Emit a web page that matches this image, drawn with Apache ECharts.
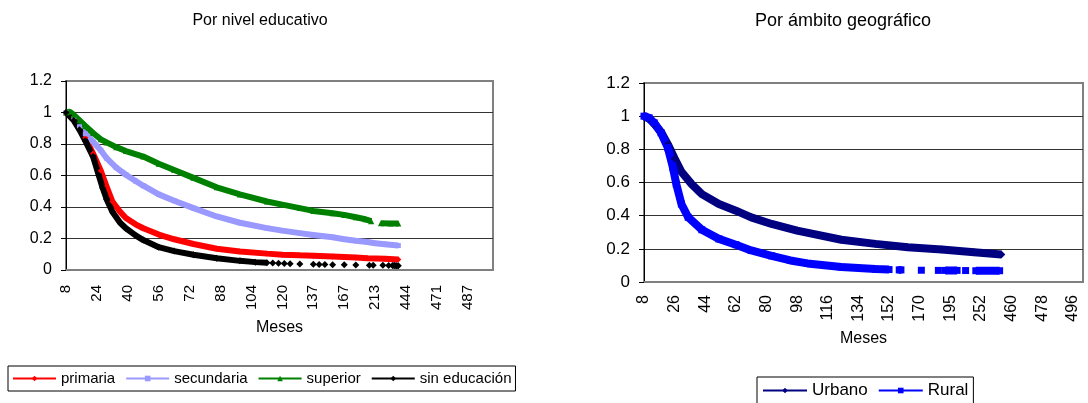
<!DOCTYPE html>
<html>
<head>
<meta charset="utf-8">
<script src="https://cdn.jsdelivr.net/npm/echarts@6/dist/echarts.min.js"></script>
<style>
  html, body { margin: 0; padding: 0; background: #fff; }
  #chart { width: 1088px; height: 403px; }
</style>
</head>
<body>
<div id="chart"></div>
<script>
// categorías del eje X (meses) - gráfico izquierdo
const mesesEdu = [
  8,9,10,11,12,13,14,15,16,17,18,19,20,21,22,23,
  24,25,26,27,28,29,30,31,32,33,34,35,36,37,38,39,
  40,41,42,43,44,45,46,47,48,49,50,51,52,53,54,55,
  56,57,58,59,60,61,62,63,64,65,66,67,68,69,70,71,
  72,73,74,75,76,77,78,79,80,81,82,83,84,85,86,87,
  88,89,90,91,92,93,94,95,96,97,98,99,100,101,102,103,
  104,105,106,107,108,109,110,111,112,113,114,115,116,117,118,119,
  120,121,122,123,124,125,126,127,128,129,130,131,132,134,135,136,
  137,139,141,143,145,147,149,151,153,155,157,159,161,162,164,166,
  167,170,173,176,179,182,185,188,191,194,197,200,203,206,209,211,
  213,218,224,230,236,245,255,265,280,295,310,330,350,370,395,420,
  444,446,448,450,451,453,455,456,458,460,461,463,465,466,468,469,
  471,472,473,474,475,476,477,478,479,480,481,482,483,484,485,486,
  487,488,489,490,491,492,493,494,495,496,497,498,499,500
];

// categorías del eje X (meses) - gráfico derecho
const mesesGeo = [
  8,9,10,11,12,13,14,15,16,17,18,19,20,21,22,23,24,25,
  26,27,28,29,30,31,32,33,34,35,36,37,38,39,40,41,42,43,
  44,45,46,47,48,49,50,51,52,53,54,55,56,57,58,59,60,61,
  62,63,64,65,66,67,68,69,70,71,72,73,74,75,76,77,78,79,
  80,81,82,83,84,85,86,87,88,89,90,91,92,93,94,95,96,97,
  98,99,100,101,102,103,104,105,106,107,108,109,110,111,112,113,114,115,
  116,117,118,119,120,121,122,123,124,125,126,127,128,129,130,131,132,133,
  134,135,136,137,138,139,140,141,142,143,144,145,146,147,148,149,150,151,
  152,153,154,155,156,157,158,159,160,161,162,163,164,165,166,167,168,169,
  170,171,173,174,176,177,179,180,182,183,185,186,188,189,191,192,193,194,
  195,198,201,204,207,210,213,216,219,222,225,228,231,234,237,240,244,248,
  252,262,275,290,305,320,335,350,365,380,395,410,420,430,438,445,450,455,
  460,461,462,463,464,465,466,467,468,469,470,471,472,473,474,475,476,477,
  478,479,480,481,482,483,484,485,486,487,488,489,490,491,492,493,494,495,
  496,497,498,499,500,501,502
];

// [mes, proporción] ; null = hueco en la serie
const primaria = [
  [8,1.0],[12,0.96],[15,0.91],[18,0.84],[22,0.74],[26,0.63],[29,0.53],[32,0.435],
  [36,0.37],[39,0.33],[44,0.29],[48,0.265],[56,0.225],[64,0.195],[74,0.165],[86,0.135],
  [98,0.118],[112,0.104],[120,0.097],[129,0.093],[137,0.09],[157,0.085],[185,0.079],
  [203,0.075],[245,0.071],[350,0.066]
];
const secundaria = [
  [8,1.0],[12,0.96],[15,0.91],[18,0.865],[22,0.815],[26,0.76],[29,0.71],[34,0.65],
  [39,0.605],[44,0.565],[48,0.535],[56,0.48],[64,0.44],[74,0.393],[86,0.34],[98,0.30],
  [112,0.266],[120,0.25],[129,0.234],[137,0.222],[157,0.208],[167,0.195],[185,0.186],
  [203,0.178],[213,0.17],[245,0.164],[350,0.155]
];
const superior = [
  [8,1.0],[10,1.005],[12,0.985],[15,0.95],[18,0.915],[22,0.87],[26,0.83],[29,0.81],
  [34,0.78],[39,0.755],[48,0.72],[56,0.675],[64,0.635],[74,0.585],[86,0.525],[98,0.48],
  [112,0.435],[120,0.415],[129,0.393],[137,0.375],[157,0.36],[167,0.35],[185,0.335],
  [200,0.322],[209,0.31],
  null,[230,0.297],[280,0.296],[350,0.295]
];
const sinEducacion = [
  [8,1.0],[12,0.95],[15,0.89],[18,0.82],[22,0.72],[25,0.60],[27,0.52],[29,0.45],
  [32,0.37],[36,0.30],[39,0.265],[44,0.22],[48,0.19],[56,0.145],[64,0.12],[74,0.097],
  [86,0.075],[98,0.058],[106,0.05],[112,0.046],
  null,[115,0.044],null,[118,0.043],null,[121,0.042],null,[124,0.04],null,[129,0.038],
  null,[137,0.036],null,[143,0.035],null,[149,0.035],null,[157,0.034],null,[167,0.033],
  null,[185,0.032],null,[206,0.03],null,[211,0.03],null,[236,0.03],null,[265,0.029],
  null,[295,0.028],[310,0.028],[330,0.027],[350,0.027]
];

const urbano = [
  [8,1.0],[11,0.985],[14,0.955],[18,0.905],[22,0.83],[26,0.745],[30,0.665],[36,0.59],
  [42,0.53],[52,0.47],[62,0.43],[71,0.39],[83,0.35],[98,0.31],[124,0.255],[144,0.23],
  [163,0.21],[189,0.196],[237,0.18],[420,0.166]
];
const rural = [
  [8,1.0],[11,0.99],[14,0.96],[18,0.9],[22,0.81],[25,0.69],[27,0.59],[30,0.47],
  [34,0.39],[42,0.315],[52,0.26],[62,0.225],[71,0.19],[83,0.158],[94,0.13],[104,0.112],
  [124,0.09],[144,0.078],[152,0.075],
  null,[158,0.073],[159,0.073],null,[171,0.071],null,[186,0.07],null,[192,0.07],[207,0.07],
  null,[222,0.069],null,[240,0.068],[410,0.068]
];

const FONT = 'Liberation Sans, Arial, sans-serif';
const toPairs = pts => pts.map(p => p ? [String(p[0]), p[1]] : null);

function linea(name, data, color, symbol, grid, width, size) {
  return {
    name: name, type: 'line', xAxisIndex: grid, yAxisIndex: grid,
    data: toPairs(data),
    symbol: symbol, symbolSize: size, showSymbol: true, showAllSymbol: true,
    connectNulls: false,
    lineStyle: { color: color, width: width },
    itemStyle: { color: color },
    emphasis: { disabled: true },
    animation: false
  };
}

function ejeX(grid, cats, interval, fs, margin, gap) {
  return {
    gridIndex: grid, type: 'category', boundaryGap: false,
    data: cats.map(String),
    axisLine: { lineStyle: { color: '#808080', width: 2 } },
    axisTick: { show: false },
    axisLabel: { interval: interval, rotate: 90, margin: margin, fontSize: fs, color: '#000', fontFamily: FONT },
    splitLine: { show: false },
    name: 'Meses', nameLocation: 'middle', nameGap: gap,
    nameTextStyle: { fontSize: 16, color: '#000', fontFamily: FONT }
  };
}

function ejeY(grid, fs) {
  return {
    gridIndex: grid, type: 'value', min: 0, max: 1.2, interval: 0.2,
    axisLine: { show: true, lineStyle: { color: '#000', width: 1 } },
    axisTick: { show: true, length: 5, lineStyle: { color: '#000' } },
    axisLabel: { margin: 14, fontSize: fs, color: '#000', fontFamily: FONT },
    splitLine: { show: true, showMaxLine: false, showMinLine: false, lineStyle: { color: '#333', width: 1 } }
  };
}

const chart = echarts.init(document.getElementById('chart'));
chart.setOption({
  backgroundColor: '#fff',
  animation: false,
  title: [
    { text: 'Por nivel educativo', left: 260, top: 13, textAlign: 'center', padding: 0,
      textStyle: { fontFamily: FONT, fontSize: 16, fontWeight: 'normal', color: '#000' } },
    { text: 'Por ámbito geográfico', left: 843, top: 12, textAlign: 'center', padding: 0,
      textStyle: { fontFamily: FONT, fontSize: 18, fontWeight: 'normal', color: '#000' } }
  ],
  legend: [
    { data: ['primaria', 'secundaria', 'superior', 'sin educación'],
      left: 8, top: 366, itemWidth: 43, itemHeight: 7, itemGap: 10,
      padding: [5, 4, 5, 4], borderColor: '#000', borderWidth: 1, borderRadius: 0,
      lineStyle: { width: 2 }, selectedMode: false,
      textStyle: { fontFamily: FONT, fontSize: 15, color: '#000' } },
    { data: ['Urbano', 'Rural'],
      left: 757, top: 377, itemWidth: 44, itemHeight: 7, itemGap: 10,
      padding: [5, 5, 5, 5], borderColor: '#000', borderWidth: 1, borderRadius: 0,
      lineStyle: { width: 2 }, selectedMode: false,
      textStyle: { fontFamily: FONT, fontSize: 17, color: '#000' } }
  ],
  grid: [
    { left: 66, top: 81, width: 427, height: 189, show: true, borderColor: '#808080', borderWidth: 2, outerBoundsMode: 'none' },
    { left: 644, top: 83, width: 439, height: 199, show: true, borderColor: '#808080', borderWidth: 2, outerBoundsMode: 'none' }
  ],
  xAxis: [
    ejeX(0, mesesEdu, 15, 15, 15, 50),
    ejeX(1, mesesGeo, 17, 16, 13, 49)
  ],
  yAxis: [ejeY(0, 16), ejeY(1, 17)],
  series: [
    linea('primaria', primaria, '#FF0000', 'diamond', 0, 6, 6),
    linea('secundaria', secundaria, '#9999FF', 'rect', 0, 6, 5),
    linea('superior', superior, '#008000', 'triangle', 0, 6, 6),
    linea('sin educación', sinEducacion, '#000000', 'diamond', 0, 6, 7),
    linea('Urbano', urbano, '#000080', 'diamond', 1, 8, 8),
    linea('Rural', rural, '#0000FF', 'rect', 1, 8, 7)
  ]
});
</script>
</body>
</html>
